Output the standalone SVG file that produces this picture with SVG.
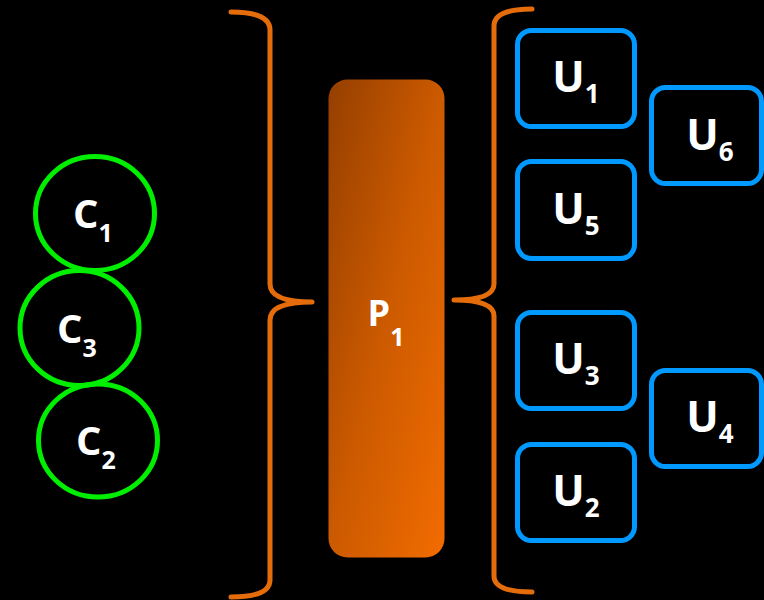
<svg xmlns="http://www.w3.org/2000/svg" width="764" height="600" viewBox="0 0 764 600">
<defs>
<linearGradient id="pg" x1="0" y1="0" x2="1" y2="1">
<stop offset="0" stop-color="#953f00"/>
<stop offset="0.5" stop-color="#cc5a00"/>
<stop offset="1" stop-color="#f26c00"/>
</linearGradient>
<style>
.c{fill:none;stroke:#00ee00;stroke-width:5}
.u{fill:none;stroke:#0099ff;stroke-width:5}
.br{fill:none;stroke:#e46c0a;stroke-width:5;stroke-linecap:round;stroke-linejoin:round}
.t{fill:#ffffff;font-family:"Open Sans","Liberation Sans",sans-serif;font-weight:700;text-anchor:middle}
</style>
</defs>
<rect width="764" height="600" fill="#000000"/>
<g id="connectors">
<path class="br" d="M231,12 Q270,12 270,30 L270,284 Q270,302 312,302 Q270,302 270,320 L270,580 Q270,597 231,597"/>
<path class="br" d="M532,9 Q494,9 494,26 L494,284 Q494,300 454,300 Q494,300 494,316 L494,576 Q494,592 532,592"/>
</g>
<g id="C1"><ellipse class="c" cx="95" cy="213.5" rx="59.5" ry="57"/><text class="t" x="93" y="228" font-size="40">C<tspan font-size="25" dy="14">1</tspan></text></g>
<g id="C3"><ellipse class="c" cx="79.5" cy="328" rx="59.5" ry="57.5"/><text class="t" x="77" y="343" font-size="40">C<tspan font-size="25" dy="14">3</tspan></text></g>
<g id="C2"><ellipse class="c" cx="98" cy="440.5" rx="59.5" ry="56.5"/><text class="t" x="96" y="455" font-size="40">C<tspan font-size="25" dy="14">2</tspan></text></g>
<g id="P1"><rect x="328.5" y="79.5" width="116" height="478" rx="19" fill="url(#pg)"/><text class="t" x="386" y="326" font-size="36">P<tspan font-size="25" dy="20">1</tspan></text></g>
<g id="U1"><rect class="u" x="517.5" y="30.5" width="117" height="96" rx="14"/><text class="t" x="576" y="92" font-size="43">U<tspan font-size="26" dy="11">1</tspan></text></g>
<g id="U5"><rect class="u" x="517.5" y="161.5" width="117" height="97" rx="14"/><text class="t" x="576" y="224" font-size="43">U<tspan font-size="26" dy="11">5</tspan></text></g>
<g id="U6"><rect class="u" x="651.5" y="87.5" width="110" height="96" rx="14"/><text class="t" x="710" y="150" font-size="43">U<tspan font-size="26" dy="11">6</tspan></text></g>
<g id="U3"><rect class="u" x="517.5" y="312.5" width="117" height="96" rx="14"/><text class="t" x="576" y="374" font-size="43">U<tspan font-size="26" dy="11">3</tspan></text></g>
<g id="U4"><rect class="u" x="651.5" y="370.5" width="110" height="96" rx="14"/><text class="t" x="710" y="432" font-size="43">U<tspan font-size="26" dy="11">4</tspan></text></g>
<g id="U2"><rect class="u" x="517.5" y="444.5" width="117" height="96" rx="14"/><text class="t" x="576" y="506" font-size="43">U<tspan font-size="26" dy="11">2</tspan></text></g>
</svg>
